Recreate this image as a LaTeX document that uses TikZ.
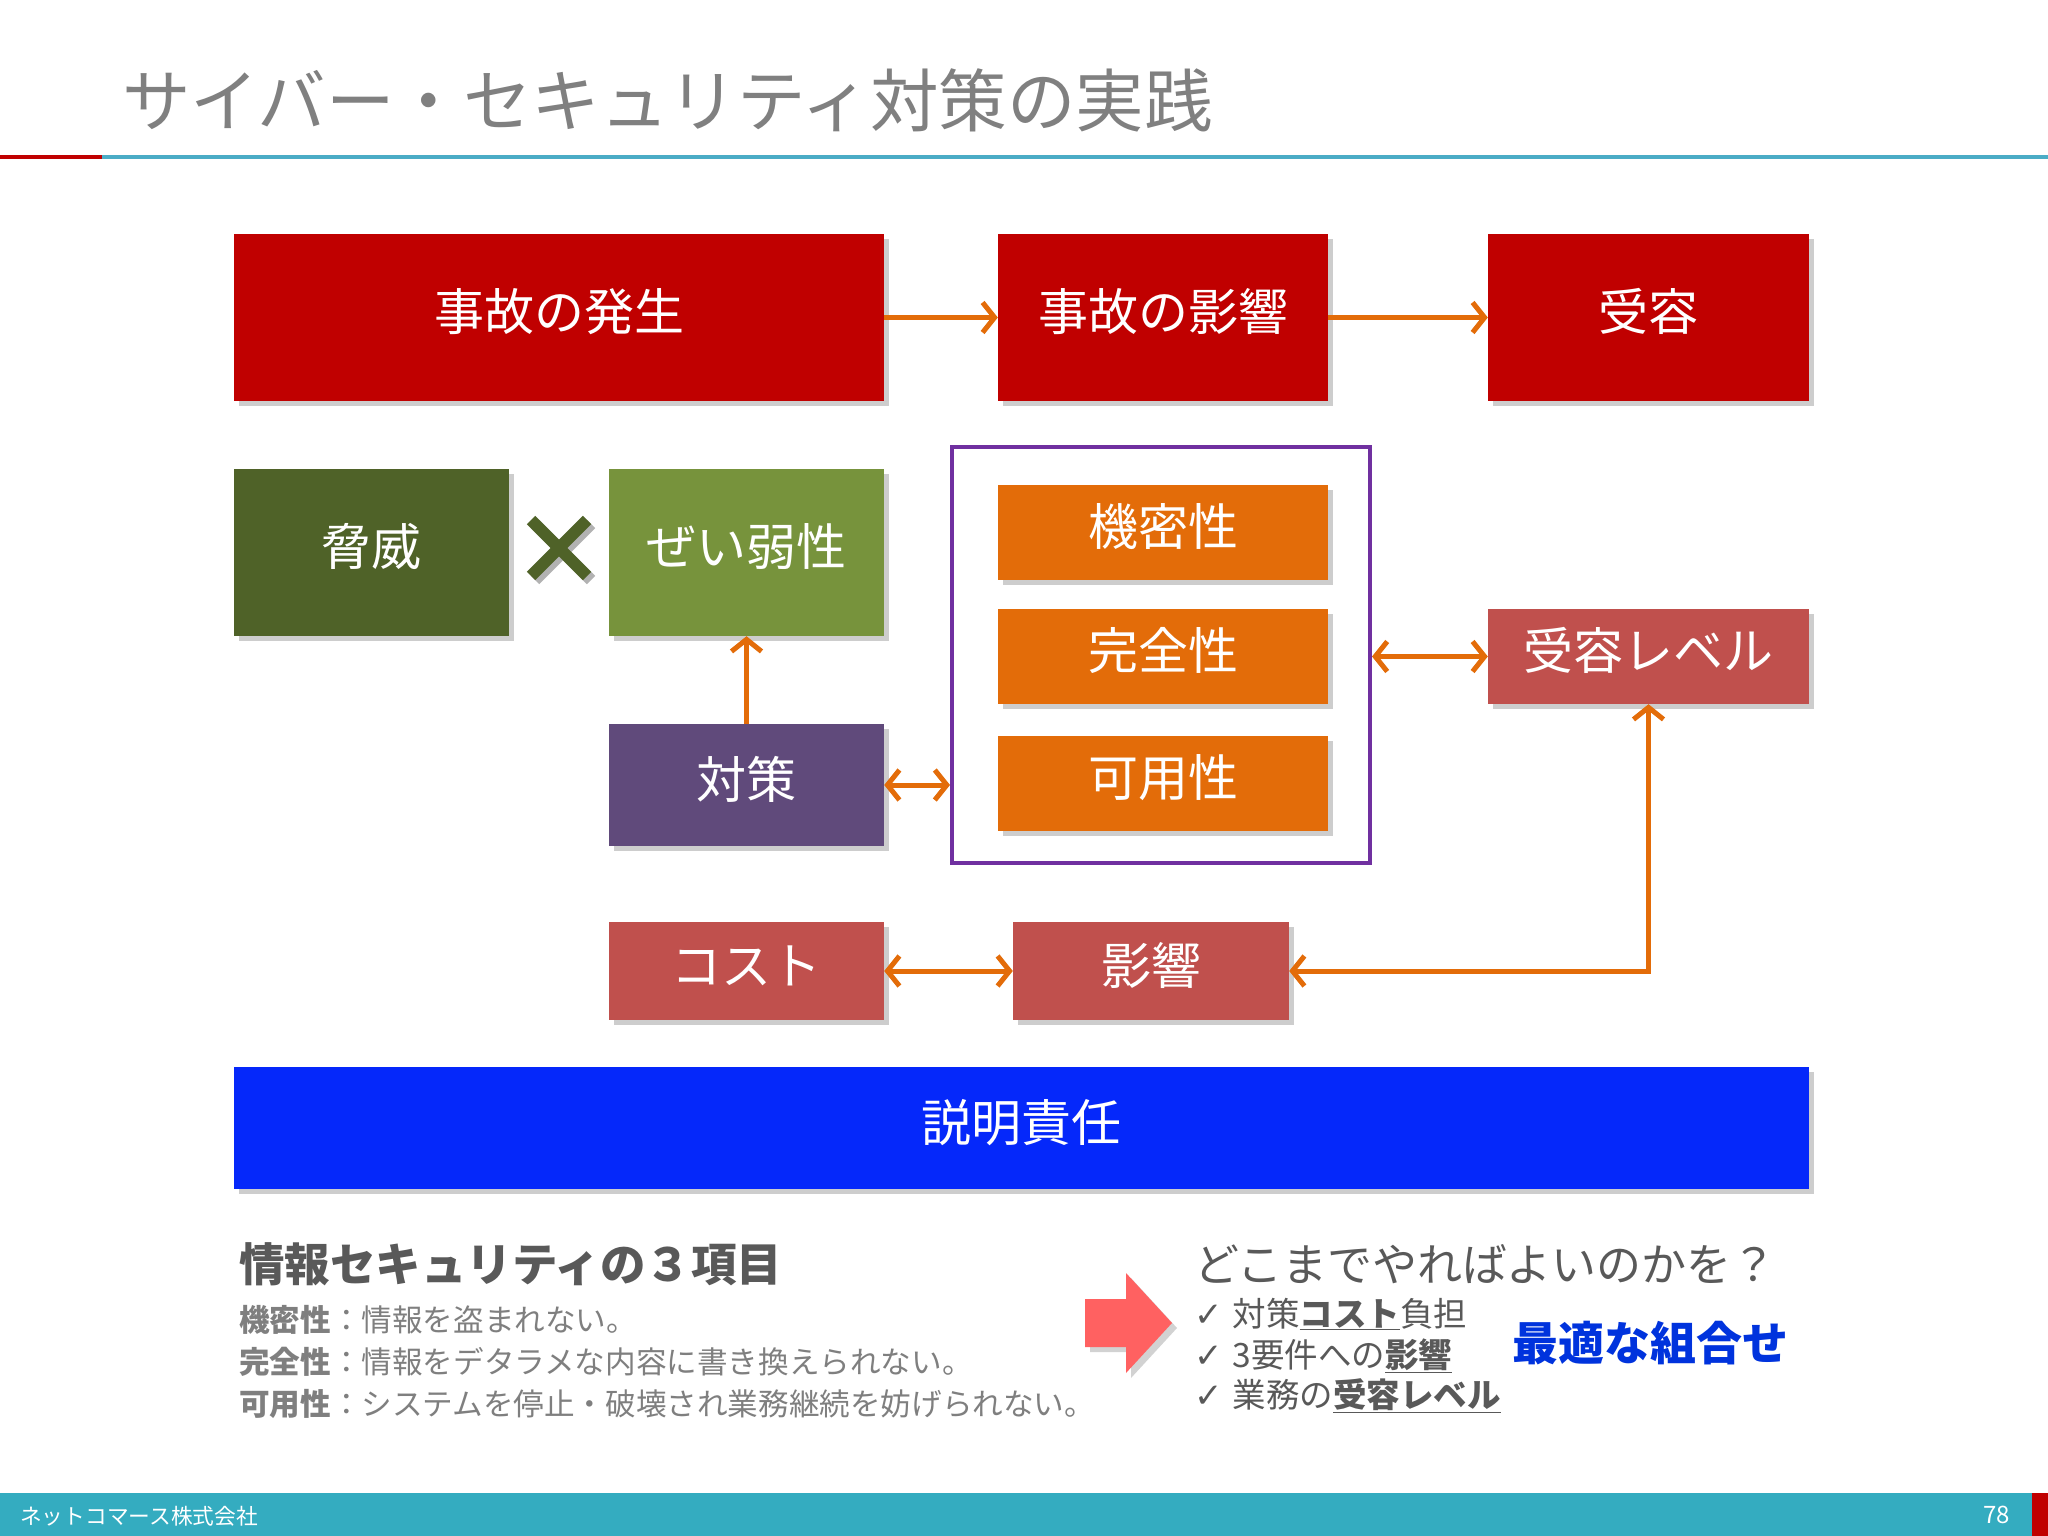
\documentclass[tikz,border=0pt]{standalone}
\usepackage{fontspec}
\setmainfont{Noto Sans CJK JP}
\newfontfamily\dejavu{DejaVu Sans}
\usetikzlibrary{arrows.meta,shadows}
\definecolor{cRed}{RGB}{192,0,0}
\definecolor{cDarkOlive}{RGB}{79,98,40}
\definecolor{cOlive}{RGB}{119,147,60}
\definecolor{cPurple}{RGB}{96,74,123}
\definecolor{cFrame}{RGB}{112,48,160}
\definecolor{cOrange}{RGB}{227,108,9}
\definecolor{cRose}{RGB}{192,80,77}
\definecolor{cBlue}{RGB}{5,40,250}
\definecolor{cText}{RGB}{89,89,89}
\definecolor{cGray}{RGB}{127,127,127}
\definecolor{cTitle}{RGB}{128,128,128}
\definecolor{cTeal}{RGB}{52,172,192}
\definecolor{cLine}{RGB}{75,172,198}
\definecolor{cSalmon}{RGB}{255,97,97}
\definecolor{cBest}{RGB}{0,51,221}
\newcommand\myfs[1]{\fontsize{#1}{#1}\selectfont}
\newcommand\chk{{\dejavu\myfs{34}✓}\hspace{10pt}}
\tikzset{
  ob/.tip={Straight Barb[length=12pt,width=30pt]},
  sh/.style={drop shadow={shadow xshift=5pt,shadow yshift=-5pt,opacity=0.28,fill=black!70}},
  box/.style={rectangle,inner sep=0pt,text=white,font=\myfs{50},text height=40pt,text depth=14pt,sh},
  conn/.style={draw=cOrange,line width=5pt,-ob},
  dconn/.style={draw=cOrange,line width=5pt,ob-ob},
  txt/.style={anchor=west,inner sep=0pt},
}
\begin{document}
\begin{tikzpicture}[x=1pt,y=-1pt]
\useasboundingbox (0,0) rectangle (2048,1536);
\fill[white] (0,0) rectangle (2048,1536);
% title
\node[txt,text=cTitle,font=\myfs{68.5}] (title) at (122,100) {サイバー・セキュリティ対策の実践};
\fill[cRed] (0,155) rectangle (102,159);
\fill[cLine] (102,155) rectangle (2048,159);
% row 1
\node[box,fill=cRed,minimum width=650pt,minimum height=167pt] (ev1) at (559,317.5) {事故の発生};
\node[box,fill=cRed,minimum width=330pt,minimum height=167pt] (ev2) at (1163,317.5) {事故の影響};
\node[box,fill=cRed,minimum width=321pt,minimum height=167pt] (ev3) at (1648.5,317.5) {受容};
% row 2
\node[box,fill=cDarkOlive,minimum width=275pt,minimum height=167pt] (threat) at (371.5,552.5) {脅威};
\node[box,fill=cOlive,minimum width=275pt,minimum height=167pt] (vuln) at (746.5,552.5) {ぜい弱性};
\node[box,fill=cPurple,minimum width=275pt,minimum height=122pt] (measure) at (746.5,785) {対策};
\node[draw=cFrame,line width=4pt,fill=white,minimum width=418pt,minimum height=416pt,inner sep=0pt] (frame) at (1161,655) {};
\node[box,fill=cOrange,minimum width=330pt,minimum height=95pt] (conf) at (1163,532.5) {機密性};
\node[box,fill=cOrange,minimum width=330pt,minimum height=95pt] (integ) at (1163,656.5) {完全性};
\node[box,fill=cOrange,minimum width=330pt,minimum height=95pt] (avail) at (1163,783) {可用性};
\node[box,fill=cRose,minimum width=321pt,minimum height=95pt] (acc) at (1648.5,656.5) {受容レベル};
% cross
\coordinate (cross) at (559,548);
\begin{scope}[line width=12pt]
\draw[draw=black!30] ([shift={(-28,-28)}]cross) ++(4,4) -- ++(56,56);
\draw[draw=black!30] ([shift={(28,-28)}]cross) ++(4,4) -- ++(-56,56);
\draw[cDarkOlive] ([shift={(-28,-28)}]cross) -- ([shift={(28,28)}]cross);
\draw[cDarkOlive] ([shift={(28,-28)}]cross) -- ([shift={(-28,28)}]cross);
\end{scope}
% row 3
\node[box,fill=cRose,minimum width=275pt,minimum height=98pt] (cost) at (746.5,971) {コスト};
\node[box,fill=cRose,minimum width=276pt,minimum height=98pt] (impact) at (1151,971) {影響};
% accountability
\node[box,fill=cBlue,minimum width=1575pt,minimum height=122pt] (acct) at (1021.5,1128) {説明責任};
% connectors
\draw[conn] (ev1.east) -- (ev2.west);
\draw[conn] (ev2.east) -- (ev3.west);
\draw[conn] (measure.north) -- (vuln.south);
\draw[dconn] (measure.east) -- (measure.east -| frame.west);
\draw[dconn] (frame.east |- acc.west) -- (acc.west);
\draw[dconn] (cost.east) -- (impact.west);
\draw[dconn] (impact.east) -- (impact.east -| acc.south) -- (acc.south);
% bottom left text
\node[txt,text=cText,font=\myfs{45.5}\bfseries] (h3) at (239,1264) {情報セキュリティの３項目};
\node[txt,text=cGray,font=\myfs{30.6}] (l1) at (239,1320) {\textbf{機密性}：情報を盗まれない。};
\node[txt,text=cGray,font=\myfs{30.6}] (l2) at (239,1362) {\textbf{完全性}：情報をデタラメな内容に書き換えられない。};
\node[txt,text=cGray,font=\myfs{30.6}] (l3) at (239,1404) {\textbf{可用性}：システムを停止・破壊され業務継続を妨げられない。};
% block arrow
\fill[black!35,opacity=0.5] (1090,1304) -- (1131,1304) -- (1131,1278) -- (1177,1328) -- (1131,1378) -- (1131,1352) -- (1090,1352) -- cycle;
\fill[cSalmon] (1085,1299) -- (1126,1299) -- (1126,1273) -- (1172,1323) -- (1126,1373) -- (1126,1347) -- (1085,1347) -- cycle;
% right text
\node[txt,text=cText,font=\myfs{45}] (q) at (1194,1264) {どこまでやれば\kern-1ptよいのかを？};
\node[txt,text=cText,font=\myfs{33.5}] (c1) at (1194,1314) {\chk 対策\underline{\textbf{コスト}}負担};
\node[txt,text=cText,font=\myfs{33.5}] (c2) at (1194,1356) {\chk 3要件への\underline{\textbf{影響}}};
\node[txt,text=cText,font=\myfs{33.5}] (c3) at (1194,1396) {\chk 業務の\underline{\textbf{受容レベル}}};
\node[txt,text=cBest,font=\myfs{46}\bfseries] (best) at (1512,1343) {最適な組合せ};
% footer
\fill[cTeal] (0,1493) rectangle (2048,1536);
\fill[cRed] (2032,1493) rectangle (2048,1536);
\node[txt,text=white,font=\myfs{21.7}] (corp) at (20,1516) {ネットコマース株式会社};
\node[anchor=east,inner sep=0pt,text=white,font=\myfs{24}] (page) at (2010,1515) {78};
\end{tikzpicture}
\end{document}
